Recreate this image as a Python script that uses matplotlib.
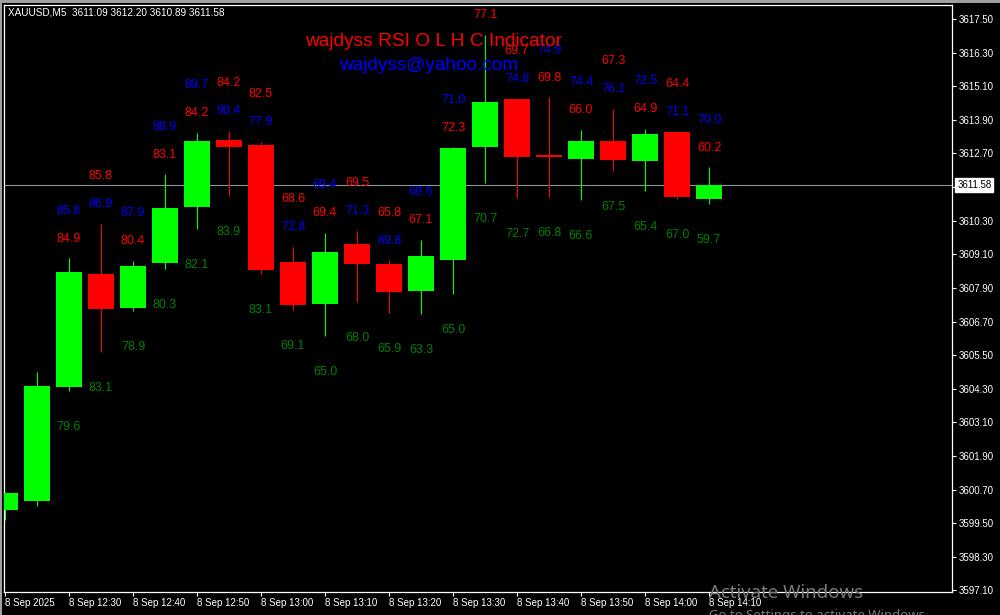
import numpy as np
import matplotlib
matplotlib.use("Agg")
import matplotlib.pyplot as plt
from matplotlib.patches import Rectangle
from matplotlib.transforms import blended_transform_factory

plt.rcParams['font.family'] = ['Liberation Sans', 'DejaVu Sans']

# XAUUSD M5 bars, 8 Sep 2025 12:20 .. 14:10
opens  = [3599.96, 3600.29, 3604.36, 3608.39, 3607.18, 3608.79, 3610.79, 3613.18,
          3613.00, 3608.82, 3607.32, 3609.46, 3608.75, 3607.79, 3608.89, 3612.93,
          3614.64, 3612.57, 3612.50, 3613.14, 3612.43, 3613.46, 3611.09]
highs  = [3600.60, 3604.89, 3608.96, 3610.18, 3608.86, 3611.96, 3613.43, 3613.50,
          3613.11, 3609.36, 3609.86, 3609.93, 3608.89, 3609.61, 3612.92, 3616.93,
          3614.66, 3614.71, 3613.54, 3614.29, 3613.57, 3613.47, 3612.20]
lows   = [3599.60, 3600.11, 3604.21, 3605.61, 3607.07, 3608.57, 3610.00, 3611.18,
          3608.39, 3607.11, 3606.18, 3607.39, 3607.00, 3606.96, 3607.68, 3611.64,
          3611.11, 3611.14, 3611.04, 3612.07, 3611.36, 3611.07, 3610.89]
closes = [3600.57, 3604.39, 3608.46, 3607.14, 3608.68, 3610.75, 3613.14, 3612.93,
          3608.54, 3607.29, 3609.18, 3608.75, 3607.75, 3609.04, 3612.89, 3614.54,
          3612.57, 3612.57, 3613.14, 3612.46, 3613.39, 3611.14, 3611.58]

# RSI values written by the indicator (None = not drawn / off screen)
rsi_close = [None, None, 84.9, 85.8, 80.4, 83.1, 84.2, 84.2, 82.5, 68.6, 69.4, 69.5,
             65.8, 67.1, 72.3, 77.1, 69.7, 69.8, 66.0, 67.3, 64.9, 64.4, 60.2]
rsi_high  = [None, None, 85.8, 86.9, 87.9, 88.9, 89.7, 90.4, 77.9, 72.8, 69.4, 71.3,
             69.8, 69.6, 71.0, None, 74.8, 74.9, 74.4, 76.1, 72.5, 71.1, 70.0]
rsi_low   = [None, None, 79.6, 83.1, 78.9, 80.3, 82.1, 83.9, 83.1, 69.1, 65.0, 68.0,
             65.9, 63.3, 65.0, 70.7, 72.7, 66.8, 66.6, 67.5, 65.4, 67.0, 59.7]

time_labels = ['8 Sep 2025', '8 Sep 12:30', '8 Sep 12:40', '8 Sep 12:50', '8 Sep 13:00',
               '8 Sep 13:10', '8 Sep 13:20', '8 Sep 13:30', '8 Sep 13:40', '8 Sep 13:50',
               '8 Sep 14:00', '8 Sep 14:10']
price_ticks = [3617.50 - 1.2 * k for k in range(18)]
last_price = 3611.58

BULL = '#00ff00'
BEAR = '#ff0000'

fig = plt.figure(figsize=(10, 6.15), dpi=100, facecolor='black')
ax = fig.add_axes([0.004, 1 - 592 / 615, 0.948, (592 - 4.5) / 615])
ax.set_facecolor('black')

x = np.arange(len(opens))
o = np.array(opens); c = np.array(closes)
h = np.array(highs); l = np.array(lows)
up = c > o
cols = [BULL if u else BEAR for u in up]

# candles
ax.vlines(x, l, h, colors=cols, linewidth=0.8, zorder=2)
body = np.maximum(np.abs(c - o), 0.06)
ax.bar(x, body, width=0.79, bottom=np.minimum(o, c), color=cols, linewidth=0, zorder=3)

# current price line
ax.axhline(last_price, color='#8c96a0', linewidth=0.8, zorder=1)

# RSI labels: two above the high (order depends on candle direction), one below the low
for i in x:
    if rsi_low[i] is None:
        continue
    bull_top = c[i] >= o[i]
    top, mid = h[i] + 1.70, h[i] + 0.70
    y_high = top if bull_top else mid
    y_close = mid if bull_top else top
    if rsi_high[i] is not None:
        ax.text(i, y_high, '%.1f' % rsi_high[i], color='#0000ff', fontsize=9,
                ha='center', va='center', zorder=4, clip_on=True)
    ax.text(i, y_close, '%.1f' % rsi_close[i], color='#ff0000', fontsize=9,
            ha='center', va='center', zorder=4, clip_on=True)
    ax.text(i, l[i] - 1.27, '%.1f' % rsi_low[i], color='#008000', fontsize=9,
            ha='center', va='center', zorder=4, clip_on=True)

ax.set_xlim(-0.03, 29.59)
ax.set_ylim(3597.043, 3618.018)

# axes look like the terminal window
for s in ax.spines.values():
    s.set_color('white')
    s.set_linewidth(0.9)
ax.set_xticks(np.arange(0, len(opens), 2))
ax.set_xticklabels(time_labels, ha='left')
ax.yaxis.tick_right()
ax.set_yticks(price_ticks)
ax.set_yticklabels(['%.2f' % p for p in price_ticks])
ax.tick_params(colors='white', labelsize=7, length=3, width=0.8, pad=1.5)
ax.tick_params(axis='x', pad=1)

trans = blended_transform_factory(ax.transAxes, ax.transData)
ax.text(1.0055, last_price, '%.2f' % last_price, transform=trans, fontsize=7,
        color='black', ha='left', va='center', zorder=6,
        bbox=dict(boxstyle='square,pad=0.2', facecolor='white', edgecolor='white'))

# chart header and indicator captions
fig.text(0.008, 1 - 12.5 / 615, 'XAUUSD,M5  3611.09 3612.20 3610.89 3611.58',
         color='white', fontsize=7.2, ha='left', va='center')
fig.text(0.4335, 1 - 42 / 615, 'wajdyss RSI O L H C Indicator', color='#ff0000',
         fontsize=13.8, ha='center', va='center')
fig.text(0.429, 1 - 66 / 615, 'wajdyss@yahoo.com', color='#0000ff',
         fontsize=13.7, ha='center', va='center')

# windows watermark
fig.text(0.709, 1 - 593 / 615, 'Activate Windows', color='#7a7a7a', fontsize=13.4,
         ha='left', va='center', family=['Noto Sans', 'DejaVu Sans'])
fig.text(0.709, 1 - 616 / 615, 'Go to Settings to activate Windows.', color='#7a7a7a',
         fontsize=9.5, ha='left', va='center', family=['Noto Sans', 'DejaVu Sans'])

# window frame bits
fig.patches.append(Rectangle((0, 1 - 3 / 615), 1, 3 / 615, transform=fig.transFigure,
                             facecolor='#a0a0a0', edgecolor='none'))
fig.patches.append(Rectangle((0, 0), 0.0015, 1, transform=fig.transFigure,
                             facecolor='#a0a0a0', edgecolor='none'))

fig.savefig('out.png', dpi=100, facecolor='black')
